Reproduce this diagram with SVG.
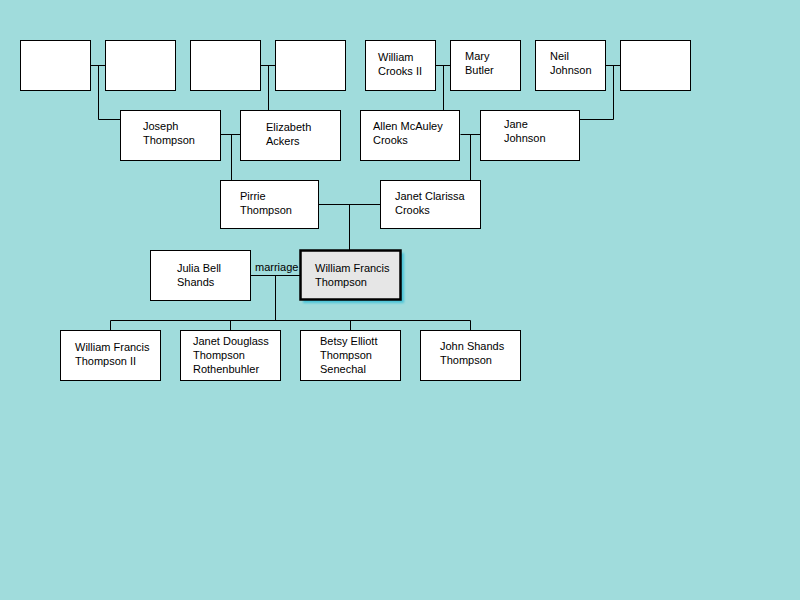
<svg xmlns="http://www.w3.org/2000/svg" width="800" height="600" viewBox="0 0 800 600">
<defs>
<style>
.box{fill:#ffffff;stroke:#000000;stroke-width:1}
.focus{fill:#e6e6e6;stroke:#000000;stroke-width:2.5}
.t{font-family:"Liberation Sans",Arial,sans-serif;font-size:11px;fill:#000000}
.c{fill:none;stroke:#000000;stroke-width:1}
</style>
<filter id="sh" x="-20%" y="-20%" width="150%" height="150%">
<feGaussianBlur stdDeviation="1.2"/>
</filter>
</defs>
<rect x="0" y="0" width="800" height="600" fill="#a0dcdc"/>

<g id="connectors">
<path class="c" d="M90.5,65.5H105M98.5,65.5V119.5H120"/>
<path class="c" d="M260.5,65.5H275M268.5,65.5V110"/>
<path class="c" d="M435.5,65.5H450M443.5,65.5V110"/>
<path class="c" d="M605.5,65.5H620M613.5,65.5V119.5H580"/>
<path class="c" d="M220.5,134.5H240M231.5,134.5V180"/>
<path class="c" d="M460.5,134.5H480M470.5,134.5V180"/>
<path class="c" d="M318.5,204.5H380M349.5,204.5V250"/>
<path class="c" d="M250.5,275.5H300M275.5,275.5V320.5"/>
<path class="c" d="M110.5,330V320.5H470.5V330M230.5,320.5V330M350.5,320.5V330"/>
<text class="t" x="255" y="271">marriage</text>
</g>

<g id="n-ggp1"><rect class="box" x="20.5" y="40.5" width="70" height="50"/></g>
<g id="n-ggp2"><rect class="box" x="105.5" y="40.5" width="70" height="50"/></g>
<g id="n-ggp3"><rect class="box" x="190.5" y="40.5" width="70" height="50"/></g>
<g id="n-ggp4"><rect class="box" x="275.5" y="40.5" width="70" height="50"/></g>
<g id="n-william-crooks"><rect class="box" x="365.5" y="40.5" width="70" height="50"/><text class="t" x="378" y="61">William</text><text class="t" x="378" y="75">Crooks II</text></g>
<g id="n-mary-butler"><rect class="box" x="450.5" y="40.5" width="70" height="50"/><text class="t" x="465" y="60">Mary</text><text class="t" x="465" y="74">Butler</text></g>
<g id="n-neil-johnson"><rect class="box" x="535.5" y="40.5" width="70" height="50"/><text class="t" x="550" y="60">Neil</text><text class="t" x="550" y="74">Johnson</text></g>
<g id="n-ggp8"><rect class="box" x="620.5" y="40.5" width="70" height="50"/></g>

<g id="n-joseph"><rect class="box" x="120.5" y="110.5" width="100" height="50"/><text class="t" x="143" y="130">Joseph</text><text class="t" x="143" y="144">Thompson</text></g>
<g id="n-elizabeth"><rect class="box" x="240.5" y="110.5" width="100" height="50"/><text class="t" x="266" y="131">Elizabeth</text><text class="t" x="266" y="145">Ackers</text></g>
<g id="n-allen"><rect class="box" x="360.5" y="110.5" width="99" height="50"/><text class="t" x="373" y="130">Allen McAuley</text><text class="t" x="373" y="144">Crooks</text></g>
<g id="n-jane"><rect class="box" x="480.5" y="110.5" width="99" height="50"/><text class="t" x="504" y="128">Jane</text><text class="t" x="504" y="142">Johnson</text></g>

<g id="n-pirrie"><rect class="box" x="220.5" y="180.5" width="98" height="48"/><text class="t" x="240" y="200">Pirrie</text><text class="t" x="240" y="214">Thompson</text></g>
<g id="n-janet-clarissa"><rect class="box" x="380.5" y="180.5" width="100" height="48"/><text class="t" x="395" y="200">Janet Clarissa</text><text class="t" x="395" y="214">Crooks</text></g>

<g id="n-julia"><rect class="box" x="150.5" y="250.5" width="100" height="50"/><text class="t" x="177" y="272">Julia Bell</text><text class="t" x="177" y="286">Shands</text></g>
<g id="n-wft"><rect x="303" y="253" width="101" height="50" fill="#4cc4d8" filter="url(#sh)"/><rect class="focus" x="300.5" y="250.5" width="100" height="49"/><text class="t" x="315" y="272">William Francis</text><text class="t" x="315" y="286">Thompson</text></g>

<g id="n-wft2"><rect class="box" x="60.5" y="330.5" width="100" height="50"/><text class="t" x="75" y="351">William Francis</text><text class="t" x="75" y="365">Thompson II</text></g>
<g id="n-janet-douglass"><rect class="box" x="180.5" y="330.5" width="100" height="50"/><text class="t" x="193" y="345">Janet Douglass</text><text class="t" x="193" y="359">Thompson</text><text class="t" x="193" y="373">Rothenbuhler</text></g>
<g id="n-betsy"><rect class="box" x="300.5" y="330.5" width="100" height="50"/><text class="t" x="320" y="345">Betsy Elliott</text><text class="t" x="320" y="359">Thompson</text><text class="t" x="320" y="373">Senechal</text></g>
<g id="n-john"><rect class="box" x="420.5" y="330.5" width="100" height="50"/><text class="t" x="440" y="350">John Shands</text><text class="t" x="440" y="364">Thompson</text></g>
</svg>
